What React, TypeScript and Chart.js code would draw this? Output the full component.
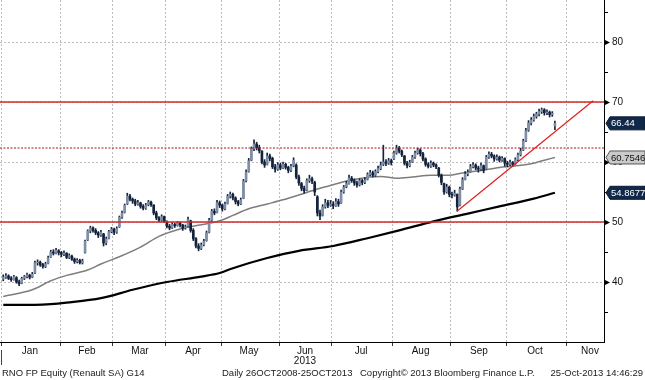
import React, { useEffect, useRef } from "react";
import { Chart, registerables } from "chart.js";

Chart.register(...registerables);

// Daily bars, [open, high, low, close], one small array per month (2013)
const janBars = [
  [40.5, 41.2, 40.2, 40.8], [40.8, 41.4, 40.6, 41.0], [41.0, 41.2, 40.4, 40.6], [40.6, 40.9, 40.1, 40.4],
  [40.4, 41.1, 40.3, 40.9], [40.7, 40.9, 39.8, 40.0], [40.0, 40.3, 39.4, 39.7], [39.8, 40.8, 39.7, 40.6],
  [40.6, 41.1, 40.4, 40.9], [40.9, 41.5, 40.7, 41.2], [41.1, 41.3, 40.5, 40.8], [40.8, 41.6, 40.7, 41.3],
  [41.5, 43.5, 41.4, 43.2], [43.2, 43.7, 42.8, 43.3], [43.3, 43.5, 42.6, 42.9], [42.9, 43.1, 42.3, 42.6],
  [42.6, 43.3, 42.4, 43.0], [43.1, 44.3, 43.0, 44.0], [44.2, 45.3, 44.1, 45.0], [45.0, 45.4, 44.5, 44.8],
  [44.8, 45.6, 44.7, 45.3], [45.2, 45.4, 44.5, 44.9],
];
const febBars = [
  [44.9, 45.1, 44.2, 44.6], [44.6, 45.2, 44.4, 44.8], [44.8, 44.9, 43.9, 44.1], [44.1, 44.7, 43.9, 44.4],
  [44.3, 44.5, 43.6, 43.8], [43.8, 44.0, 43.1, 43.4], [43.4, 43.9, 43.2, 43.6], [43.6, 43.8, 43.0, 43.2],
  [43.2, 43.8, 43.0, 43.5], [44.9, 47.0, 44.8, 46.8], [47.0, 48.7, 46.9, 48.5], [48.5, 49.3, 48.2, 49.0],
  [49.0, 49.2, 48.3, 48.6], [48.6, 48.9, 47.9, 48.2], [48.2, 48.4, 47.4, 47.8], [47.8, 48.6, 47.6, 48.3],
  [48.0, 48.1, 46.0, 46.5], [46.5, 47.5, 46.2, 47.2], [47.3, 48.6, 47.2, 48.4], [48.4, 49.1, 48.2, 48.8],
];
const marBars = [
  [48.8, 49.0, 47.9, 48.3], [48.3, 49.2, 48.1, 48.9], [49.2, 51.0, 49.1, 50.8], [50.8, 51.8, 50.6, 51.5],
  [51.6, 53.0, 51.5, 52.8], [53.0, 54.8, 52.9, 54.3], [54.3, 54.6, 53.5, 53.8], [53.8, 54.0, 53.1, 53.5],
  [53.5, 53.8, 52.7, 53.0], [53.0, 53.6, 52.8, 53.2], [53.2, 53.3, 52.3, 52.6], [52.6, 52.9, 52.0, 52.3],
  [52.3, 53.1, 52.1, 52.8], [52.9, 53.6, 52.7, 53.3], [53.3, 53.5, 52.6, 52.9], [52.8, 52.9, 51.2, 51.5],
  [51.5, 51.8, 50.4, 50.7], [50.7, 50.9, 50.0, 50.3], [50.3, 51.2, 50.1, 50.9], [50.9, 51.0, 49.9, 50.1],
];
const aprBars = [
  [50.0, 50.2, 49.0, 49.3], [49.3, 49.6, 48.7, 49.0], [49.0, 49.9, 48.9, 49.6], [49.6, 49.8, 49.1, 49.4],
  [49.4, 50.1, 49.3, 49.8], [49.8, 50.0, 49.2, 49.5], [49.5, 49.6, 48.6, 49.0], [49.0, 49.5, 48.8, 49.2],
  [49.3, 50.8, 49.2, 50.4], [50.2, 50.3, 48.3, 48.6], [48.6, 48.9, 46.9, 47.2], [47.2, 47.4, 45.7, 46.0],
  [46.0, 46.4, 45.2, 45.6], [45.6, 46.5, 45.4, 46.2], [46.2, 47.1, 46.0, 46.8], [46.9, 48.5, 46.8, 48.2],
  [48.3, 50.6, 48.2, 50.3], [50.3, 52.1, 50.1, 51.8], [51.8, 52.2, 51.2, 51.5], [51.6, 53.6, 51.5, 53.2],
  [53.2, 53.5, 52.4, 52.8],
];
const mayBars = [
  [52.8, 53.0, 51.8, 52.2], [52.2, 53.3, 52.0, 53.0], [53.1, 54.6, 53.0, 54.3], [54.3, 55.0, 54.0, 54.6],
  [54.6, 54.8, 53.7, 54.0], [54.0, 54.2, 53.0, 53.4], [53.4, 53.6, 52.7, 53.0], [53.0, 54.0, 52.9, 53.7],
  [54.0, 57.1, 53.9, 56.8], [56.9, 58.7, 56.7, 58.3], [58.4, 60.6, 58.3, 60.2], [60.3, 62.5, 60.2, 62.2],
  [62.2, 63.7, 61.9, 63.0], [63.0, 63.3, 62.0, 62.4], [62.4, 62.8, 61.5, 61.9], [61.8, 61.9, 59.7, 60.0],
  [60.0, 60.4, 59.1, 59.5], [59.6, 61.5, 59.5, 61.0], [61.0, 61.3, 60.2, 60.6], [60.6, 60.8, 58.9, 59.2],
  [59.2, 59.6, 58.3, 58.8], [58.8, 59.9, 58.6, 59.5],
];
const junBars = [
  [59.5, 59.8, 58.7, 59.0], [59.0, 60.0, 58.9, 59.6], [59.6, 59.8, 58.8, 59.1], [59.1, 59.3, 58.2, 58.6],
  [58.6, 59.6, 58.4, 59.3], [59.4, 60.7, 59.2, 60.3], [59.5, 59.7, 57.2, 57.5], [57.5, 57.8, 56.1, 56.5],
  [56.4, 56.6, 55.2, 55.6], [55.6, 56.0, 54.8, 55.2], [55.3, 57.2, 55.2, 56.9], [56.9, 57.8, 56.6, 57.2],
  [57.2, 57.5, 56.4, 56.8], [56.6, 56.8, 54.4, 55.0], [54.2, 54.4, 51.0, 51.5], [51.5, 52.0, 50.4, 51.0],
  [51.1, 52.9, 51.0, 52.5], [52.5, 53.8, 52.3, 53.2], [53.2, 53.6, 52.4, 52.8], [52.8, 53.6, 52.6, 53.0],
];
const julBars = [
  [53.0, 53.4, 52.2, 52.7], [52.7, 53.9, 52.6, 53.4], [53.4, 53.8, 52.6, 53.0], [53.2, 55.3, 53.1, 55.0],
  [55.0, 56.1, 54.8, 55.8], [55.9, 56.8, 55.7, 56.4], [56.4, 57.8, 56.3, 57.3], [57.3, 57.6, 56.6, 56.9],
  [56.9, 57.2, 56.1, 56.5], [56.5, 56.8, 55.8, 56.2], [56.2, 57.2, 56.0, 56.9], [56.9, 57.1, 56.2, 56.6],
  [56.6, 57.4, 56.4, 57.0], [57.1, 58.2, 57.0, 57.9], [57.9, 58.6, 57.7, 58.2], [58.2, 58.5, 57.5, 57.8],
  [57.8, 58.7, 57.6, 58.4], [58.4, 59.3, 58.2, 58.9], [58.9, 60.0, 58.7, 59.5], [59.6, 62.8, 59.4, 60.0],
  [60.0, 60.4, 59.4, 59.8], [59.8, 60.6, 59.6, 60.2], [60.2, 60.5, 59.5, 59.9],
];
const augBars = [
  [60.5, 61.8, 60.4, 61.5], [61.5, 62.8, 61.3, 62.3], [62.3, 62.6, 61.5, 61.8], [61.8, 62.0, 60.9, 61.2],
  [61.0, 61.1, 59.5, 59.8], [59.8, 60.1, 59.0, 59.4], [59.4, 60.3, 59.2, 59.9], [60.0, 61.1, 59.9, 60.8],
  [60.8, 61.8, 60.6, 61.5], [61.5, 62.3, 61.3, 62.0], [62.0, 62.2, 61.0, 61.4], [61.4, 61.6, 60.2, 60.5],
  [60.5, 60.7, 59.3, 59.6], [59.6, 59.9, 59.0, 59.3], [59.3, 60.2, 59.1, 59.8], [59.8, 60.0, 59.2, 59.5],
  [59.5, 59.7, 58.9, 59.2], [59.0, 59.1, 57.5, 57.8], [57.8, 58.0, 56.2, 56.6], [56.4, 56.5, 54.6, 55.0],
  [55.0, 56.3, 54.8, 55.8], [55.8, 56.0, 54.2, 54.6],
];
const sepBars = [
  [54.6, 55.0, 54.0, 54.5], [54.5, 55.3, 54.3, 54.8], [54.6, 54.7, 51.8, 52.5], [52.8, 55.8, 52.7, 55.5],
  [55.5, 57.4, 55.4, 57.0], [57.1, 58.4, 57.0, 58.0], [58.0, 58.7, 57.7, 58.3], [58.4, 59.6, 58.3, 59.2],
  [59.2, 59.9, 59.0, 59.5], [59.5, 59.7, 58.7, 59.0], [59.0, 59.3, 58.3, 58.8], [58.8, 59.8, 58.6, 59.4],
  [59.4, 59.5, 58.2, 58.6], [58.9, 61.1, 58.8, 60.8], [60.8, 61.7, 60.6, 61.3], [61.3, 61.6, 60.7, 61.0],
  [61.0, 61.2, 60.1, 60.5], [60.5, 61.2, 60.3, 60.8], [60.8, 61.0, 60.0, 60.3], [60.3, 60.9, 60.1, 60.6],
  [60.6, 60.7, 59.3, 59.8],
];
const octBars = [
  [59.8, 60.1, 59.2, 59.6], [59.6, 60.3, 59.4, 59.9], [59.9, 60.1, 59.3, 59.6], [59.7, 60.7, 59.6, 60.4],
  [60.4, 61.5, 60.2, 61.2], [61.2, 62.3, 61.0, 61.8], [62.0, 63.8, 61.9, 63.5], [63.5, 65.6, 63.4, 65.2],
  [65.3, 66.9, 65.1, 66.5], [66.5, 67.4, 66.2, 67.0], [67.0, 68.0, 66.8, 67.6], [67.6, 68.3, 67.3, 68.0],
  [68.0, 68.8, 67.7, 68.4], [68.4, 69.0, 68.1, 68.7], [68.7, 68.9, 67.8, 68.2], [68.2, 68.7, 67.9, 68.3],
  [68.3, 68.5, 67.5, 67.9], [67.9, 68.4, 67.6, 68.1], [66.0, 66.8, 65.4, 66.44],
];

// Moving averages: trading-day index and value
const ma50Days = [0, 11, 18, 24, 32, 37, 44, 52, 59, 66, 72, 78, 82, 87, 93, 100, 106, 112, 119, 125, 131, 139, 143, 149, 155, 162, 169, 173, 181, 188, 193, 200, 205, 209];
const ma50Values = [37.6, 38.7, 40.2, 41.1, 42.0, 43.0, 44.2, 45.8, 47.6, 48.7, 49.3, 49.8, 50.2, 51.1, 52.2, 53.0, 53.7, 54.5, 55.5, 56.2, 56.9, 57.5, 57.6, 57.3, 57.5, 57.8, 57.8, 58.1, 58.6, 59.1, 59.3, 59.7, 60.3, 60.7546];
const ma200Days = [0, 12, 18, 24, 37, 49, 62, 75, 82, 87, 100, 112, 125, 138, 150, 163, 176, 188, 201, 209];
const ma200Values = [36.2, 36.2, 36.3, 36.55, 37.3, 38.7, 40.0, 40.9, 41.5, 42.3, 44.0, 45.2, 46.0, 47.3, 48.6, 50.1, 51.4, 52.6, 53.9, 54.8677];

// Drawn levels and trend line
const solidLevels = [70, 50];
const dottedLevels = [62.33];
const trendDays = [171.9, 223.5];
const trendValues = [51.8, 70.2];

// Axis labels
const monthNames = ["Jan", "Feb", "Mar", "Apr", "May", "Jun", "Jul", "Aug", "Sep", "Oct", "Nov"];
const monthLabelDays = [10.1, 31.7, 51.8, 71.9, 93.1, 114.3, 135.6, 158.1, 180.2, 201.5, 222.3];
const monthStartDays = [-0.5, 21.5, 41.5, 61.5, 82.5, 104.5, 124.5, 147.5, 169.5, 190.5, 213.5];
const yearLabel = "2013";
const yearLabelMonth = 5;
const yTickValues = [30, 35, 40, 45, 50, 55, 60, 65, 70, 75, 80, 85];
const yLabelValues = [40, 50, 60, 70, 80];

const footerTexts = [
  "RNO FP Equity (Renault SA) G14",
  "Daily 26OCT2008-25OCT2013",
  "Copyright\u00A9 2013 Bloomberg Finance L.P.",
  "25-Oct-2013 14:46:29",
];

const X_MIN = -1.235;
const X_MAX = 227.6;
const Y_MIN = 30;
const Y_MAX = 87;

const FONT = '"Liberation Sans", Arial, sans-serif';
const INK = "#14233b";

export default function App() {
  const canvasRef = useRef<HTMLCanvasElement | null>(null);

  useEffect(() => {
    document.body.style.margin = "0";
    const canvas = canvasRef.current;
    if (!canvas) return;

    const bars = [
      ...janBars, ...febBars, ...marBars, ...aprBars, ...mayBars,
      ...junBars, ...julBars, ...augBars, ...sepBars, ...octBars,
    ];
    const wickData = bars.map((b, i) => ({ x: i, y: [b[2], b[1]] }));
    const bodyData = bars.map((b, i) => ({ x: i, y: [b[0], b[3]] }));
    const bodyFill = bars.map((b) => (b[3] >= b[0] ? "#7f8ea8" : INK));
    const lastClose = bars[bars.length - 1][3];

    const levelLine = (v: number) => [
      { x: X_MIN, y: v },
      { x: X_MAX, y: v },
    ];

    const overlay = {
      id: "overlay",
      afterDraw(chart: any) {
        const { ctx, chartArea, scales } = chart;
        const ys = scales.y;
        const ax = chartArea.right;
        ctx.save();
        // right axis tick marks
        ctx.fillStyle = "#000";
        ctx.strokeStyle = "#000";
        ctx.lineWidth = 1;
        yTickValues.forEach((v) => {
          if (v <= Y_MIN) return;
          const py = Math.round(ys.getPixelForValue(v)) + 0.5;
          if (yLabelValues.includes(v)) {
            ctx.beginPath();
            ctx.moveTo(ax, py - 3);
            ctx.lineTo(ax + 6, py);
            ctx.lineTo(ax, py + 3);
            ctx.closePath();
            ctx.fill();
          } else {
            ctx.beginPath();
            ctx.moveTo(ax, py);
            ctx.lineTo(ax + 4, py);
            ctx.stroke();
          }
        });
        // value tags
        const tag = (value: number, text: string, fill: string, color: string, stroke: string) => {
          const py = ys.getPixelForValue(value);
          const h = 13;
          const tip = ax + 2;
          const sh = ax + 6;
          const right = chart.width;
          ctx.beginPath();
          ctx.moveTo(tip, py);
          ctx.lineTo(sh, py - h / 2);
          ctx.lineTo(right, py - h / 2);
          ctx.lineTo(right, py + h / 2);
          ctx.lineTo(sh, py + h / 2);
          ctx.closePath();
          ctx.fillStyle = fill;
          ctx.fill();
          ctx.strokeStyle = stroke;
          ctx.lineWidth = 1;
          ctx.stroke();
          ctx.fillStyle = color;
          ctx.font = `9.5px ${FONT}`;
          ctx.textAlign = "left";
          ctx.textBaseline = "middle";
          ctx.fillText(text, ax + 7, py + 0.5);
        };
        tag(lastClose, String(lastClose), "#10294a", "#ffffff", "#0a1a30");
        const ma50Last = ma50Values[ma50Values.length - 1];
        tag(ma50Last, String(ma50Last), "#cacaca", "#111111", "#555555");
        const ma200Last = ma200Values[ma200Values.length - 1];
        tag(ma200Last, String(ma200Last), "#10294a", "#ffffff", "#0a1a30");

        // small year separator tick
        ctx.fillStyle = "#444";
        ctx.fillRect(1, chartArea.bottom + 8, 1, 15);

        // footer
        ctx.fillStyle = "#1a1a1a";
        ctx.font = `9.5px ${FONT}`;
        ctx.textBaseline = "middle";
        const fy = chart.height - 6.5;
        ctx.textAlign = "left";
        ctx.fillText(footerTexts[0], 2, fy);
        ctx.fillText(footerTexts[1], 222, fy);
        ctx.fillText(footerTexts[2], 360, fy);
        ctx.textAlign = "right";
        ctx.fillText(footerTexts[3], chart.width - 2, fy);
        ctx.restore();
      },
    };

    const chart = new Chart(canvas, {
      type: "bar",
      data: {
        datasets: [
          {
            type: "line",
            label: "trend",
            data: trendDays.map((d, i) => ({ x: d, y: trendValues[i] })),
            borderColor: "#e01f1f",
            borderWidth: 1.2,
            pointRadius: 0,
            order: 0,
          } as any,
          ...solidLevels.map((v) => ({
            type: "line",
            label: "level",
            data: levelLine(v),
            borderColor: "#d42a2a",
            borderWidth: 1.6,
            pointRadius: 0,
            order: 1,
          })),
          ...dottedLevels.map((v) => ({
            type: "line",
            label: "dotted",
            data: levelLine(v),
            borderColor: "#b01515",
            borderWidth: 1.2,
            borderDash: [2, 1.5],
            pointRadius: 0,
            order: 1,
          })),
          {
            type: "bar",
            label: "body",
            data: bodyData,
            backgroundColor: bodyFill,
            borderWidth: 0,
            barThickness: 2,
            grouped: false,
            order: 2,
          } as any,
          {
            type: "bar",
            label: "wick",
            data: wickData,
            backgroundColor: INK,
            borderWidth: 0,
            barThickness: 1,
            grouped: false,
            order: 3,
          } as any,
          {
            type: "line",
            label: "ma50",
            data: ma50Days.map((d, i) => ({ x: d, y: ma50Values[i] })),
            borderColor: "#7d7d7d",
            borderWidth: 1.5,
            pointRadius: 0,
            cubicInterpolationMode: "monotone",
            order: 4,
          } as any,
          {
            type: "line",
            label: "ma200",
            data: ma200Days.map((d, i) => ({ x: d, y: ma200Values[i] })),
            borderColor: "#000000",
            borderWidth: 2.2,
            pointRadius: 0,
            cubicInterpolationMode: "monotone",
            order: 5,
          } as any,
        ] as any,
      },
      options: {
        animation: false,
        responsive: false,
        maintainAspectRatio: false,
        devicePixelRatio: 1,
        layout: { padding: 0 },
        plugins: { legend: { display: false }, tooltip: { enabled: false } },
        scales: {
          x: {
            type: "linear",
            min: X_MIN,
            max: X_MAX,
            offset: false,
            afterBuildTicks: (s: any) => {
              s.ticks = [...monthStartDays, ...monthLabelDays]
                .sort((a, b) => a - b)
                .map((v) => ({ value: v }));
            },
            afterFit: (s: any) => {
              s.height = 38;
              s.paddingLeft = 0;
              s.paddingRight = 0;
            },
            ticks: {
              autoSkip: false,
              maxRotation: 0,
              minRotation: 0,
              padding: 0,
              color: "#111",
              font: { family: FONT, size: 10, lineHeight: 1 },
              callback: (val: any) => {
                const k = monthLabelDays.indexOf(Number(val));
                if (k < 0) return "";
                return k === yearLabelMonth ? [monthNames[k], yearLabel] : monthNames[k];
              },
            },
            grid: {
              offset: false,
              color: (c: any) =>
                c.tick && monthStartDays.includes(c.tick.value) ? "#bdbdbd" : "rgba(0,0,0,0)",
              tickColor: (c: any) =>
                c.tick && monthStartDays.includes(c.tick.value) ? "#333" : "rgba(0,0,0,0)",
              tickLength: 4,
              tickBorderDash: [],
              lineWidth: 1,
            },
            border: { display: true, color: "#000", width: 1, dash: [2, 2] },
          },
          y: {
            type: "linear",
            position: "right",
            min: Y_MIN,
            max: Y_MAX,
            afterBuildTicks: (s: any) => {
              s.ticks = yTickValues.map((v) => ({ value: v }));
            },
            afterFit: (s: any) => {
              s.width = 41;
              s.paddingTop = 0;
              s.paddingBottom = 0;
            },
            ticks: {
              padding: 8,
              color: "#111",
              font: { family: FONT, size: 10 },
              callback: (val: any) => (yLabelValues.includes(Number(val)) ? String(val) : ""),
            },
            grid: {
              drawTicks: false,
              color: (c: any) =>
                c.tick && c.tick.value % 10 === 0 && c.tick.value > Y_MIN ? "#bdbdbd" : "rgba(0,0,0,0)",
              lineWidth: 1,
            },
            border: { display: true, color: "#000", width: 1, dash: [2, 2] },
          },
        },
      } as any,
      plugins: [overlay],
    });

    return () => chart.destroy();
  }, []);

  return (
    <div style={{ width: 645, height: 380, background: "#fff" }}>
      <canvas ref={canvasRef} width={645} height={380} style={{ display: "block" }} />
    </div>
  );
}
